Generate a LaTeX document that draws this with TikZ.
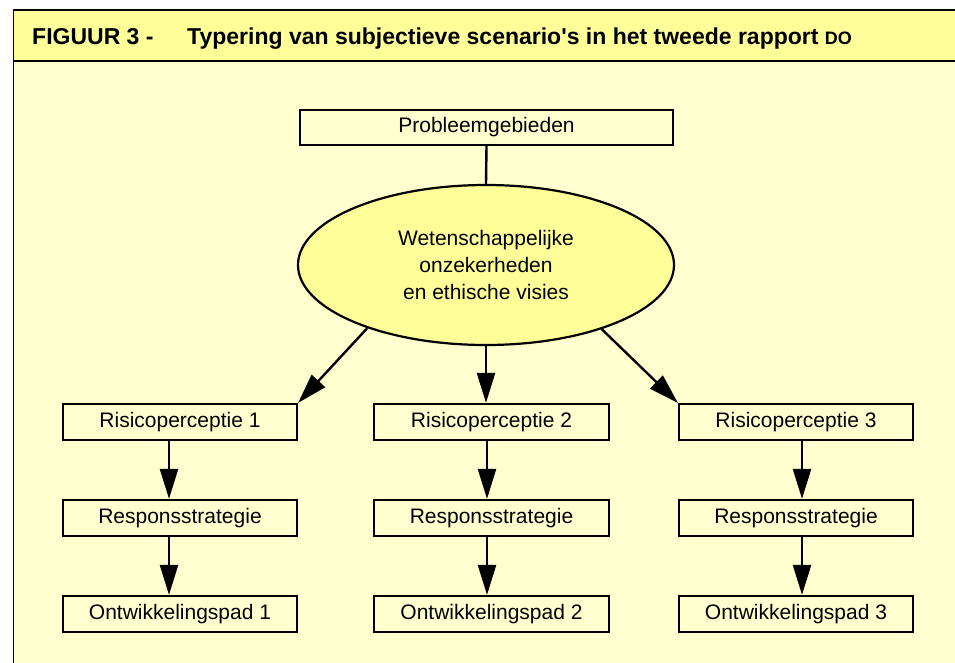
\documentclass[tikz,border=0pt]{standalone}
\usepackage{fontspec}
\setmainfont{Liberation Sans}[Ligatures=TeXOff]
\usetikzlibrary{shapes.geometric,arrows.meta}
\definecolor{bandyellow}{RGB}{255,255,153}
\definecolor{bodyyellow}{RGB}{255,255,208}
\definecolor{ellyellow}{RGB}{255,255,153}
\begin{document}
\begin{tikzpicture}[x=1pt,y=-1pt,
  box/.style={draw,line width=2.2pt,minimum width=234pt,minimum height=36pt,inner sep=0pt,font=\fontsize{21}{25}\selectfont},
  arr/.style={line width=2.4pt,-{Triangle[length=30pt,width=18pt]}},
  conn/.style={line width=2.4pt},
  frame/.style={line width=1.3pt},
  titletext/.style={anchor=base west,inner sep=0pt,font=\bfseries\fontsize{23}{23}\selectfont}
  ]
\useasboundingbox (0,0) rectangle (955,663);
\fill[white] (0,0) rectangle (955,663);
\fill[bandyellow] (13.5,10) rectangle (955,61);
\fill[bodyyellow] (13.5,61) rectangle (955,663);
\draw[frame] (955,10) -- (13.5,10) -- (13.5,663);
\draw[frame] (13.5,61) -- (955,61);

\node[titletext] (fig) at (32,44.5) {FIGUUR 3 -};
\node[titletext] (title) at (187,44.5) {Typering van subjectieve scenario's in het tweede rapport {\fontsize{18}{18}\selectfont DO}};

\node[box,minimum width=373pt,minimum height=35pt] (pb) at (486.5,127.5) {Probleemgebieden};
\node[ellipse,draw,line width=2.2pt,fill=ellyellow,minimum width=376pt,minimum height=160pt,inner sep=0pt,align=center,font=\fontsize{21}{27}\selectfont] (ell) at (486,265) {Wetenschappelijke\\onzekerheden\\en ethische visies};

\node[box] (r1) at (180,422) {Risicoperceptie 1};
\node[box,minimum width=235pt] (r2) at (491.5,422) {Risicoperceptie 2};
\node[box] (r3) at (796,422) {Risicoperceptie 3};
\node[box] (s1) at (180,518) {Responsstrategie};
\node[box,minimum width=235pt] (s2) at (491.5,518) {Responsstrategie};
\node[box] (s3) at (796,518) {Responsstrategie};
\node[box] (o1) at (180,614) {Ontwikkelingspad 1};
\node[box,minimum width=235pt] (o2) at (491.5,614) {Ontwikkelingspad 2};
\node[box] (o3) at (796,614) {Ontwikkelingspad 3};

\coordinate (c1) at (169,0);
\coordinate (c2) at (487,0);
\coordinate (c3) at (802,0);

\draw[conn] (pb.south) -- (ell.north);
\draw[arr] (ell.208.5) -- (r1.north east);
\draw[arr] (ell.south) -- (ell.south |- r2.north);
\draw[arr] (ell.331.8) -- (r3.north west);

\draw[arr] (r1.south -| c1) -- (s1.north -| c1);
\draw[arr] (s1.south -| c1) -- (o1.north -| c1);
\draw[arr] (r2.south -| c2) -- (s2.north -| c2);
\draw[arr] (s2.south -| c2) -- (o2.north -| c2);
\draw[arr] (r3.south -| c3) -- (s3.north -| c3);
\draw[arr] (s3.south -| c3) -- (o3.north -| c3);
\end{tikzpicture}
\end{document}
